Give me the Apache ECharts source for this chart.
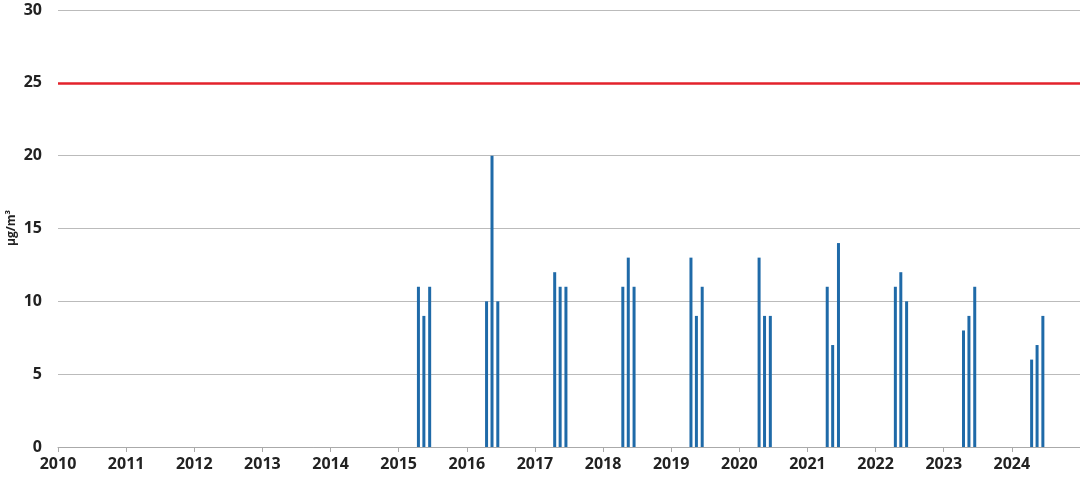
<!DOCTYPE html>
<html>
<head>
<meta charset="utf-8">
<script src="https://cdn.jsdelivr.net/npm/echarts@6/dist/echarts.min.js"></script>
<style>
  html, body { margin: 0; padding: 0; background: #fff; }
  #chart { width: 1080px; height: 479px; }
</style>
</head>
<body>
<div id="chart"></div>
<script>
// Jahre mit Messungen, drei Messungen pro Jahr (ca. April, Mai, Juni)
const years = [2015, 2016, 2017, 2018, 2019, 2020, 2021, 2022, 2023, 2024];
const monthOffsets = [0.29, 0.37, 0.455];
const values = [
  [11, 9, 11],
  [10, 20, 10],
  [12, 11, 11],
  [11, 13, 11],
  [13, 9, 11],
  [13, 9, 9],
  [11, 7, 14],
  [11, 12, 10],
  [8, 9, 11],
  [6, 7, 9]
];
const limitValue = 25;
const yTicks = [0, 5, 10, 15, 20, 25, 30];
const unitLabel = 'µg/m³';

// Punkte [Jahr + Anteil, Wert] für die Balken
const barData = [];
years.forEach((y, i) => {
  values[i].forEach((v, j) => {
    barData.push([y + monthOffsets[j], v]);
  });
});

const fontFamily = '"Open Sans", "Noto Sans", sans-serif';
const labelFont = { fontFamily, fontWeight: 'bold', fontSize: 16, color: '#222' };

const option = {
  animation: false,
  backgroundColor: '#fff',
  grid: { left: 58, right: 0, top: 10, bottom: 32, outerBoundsMode: 'none', containLabel: false },
  // Einheit links, gedreht
  graphic: [
    {
      type: 'text',
      x: 12,
      y: 228,
      rotation: Math.PI / 2,
      style: {
        text: unitLabel,
        fontFamily,
        fontWeight: 'bold',
        fontSize: 12,
        fill: '#222',
        align: 'center',
        verticalAlign: 'middle'
      }
    }
  ],
  xAxis: {
    type: 'value',
    min: 2010,
    max: 2025,
    interval: 1,
    axisLine: { show: true, lineStyle: { color: '#aaa', width: 1 } },
    axisTick: { show: true, length: 5, lineStyle: { color: '#aaa' } },
    splitLine: { show: false },
    axisLabel: {
      ...labelFont,
      margin: 9,
      formatter: (v) => (v < 2025 ? String(v) : '')
    }
  },
  yAxis: {
    type: 'value',
    min: yTicks[0],
    max: yTicks[yTicks.length - 1],
    interval: 5,
    axisLine: { show: false },
    axisTick: { show: false },
    splitLine: { lineStyle: { color: '#bbb', width: 1 } },
    axisLabel: { ...labelFont, margin: 16 }
  },
  series: [
    {
      type: 'bar',
      data: barData,
      barWidth: 3,
      itemStyle: { color: '#1f6aa8' },
      markLine: {
        silent: true,
        symbol: 'none',
        label: { show: false },
        lineStyle: { color: '#e3222b', width: 2.5, type: 'solid' },
        data: [{ yAxis: limitValue }]
      }
    }
  ]
};

const chart = echarts.init(document.getElementById('chart'));
chart.setOption(option);
</script>
</body>
</html>
